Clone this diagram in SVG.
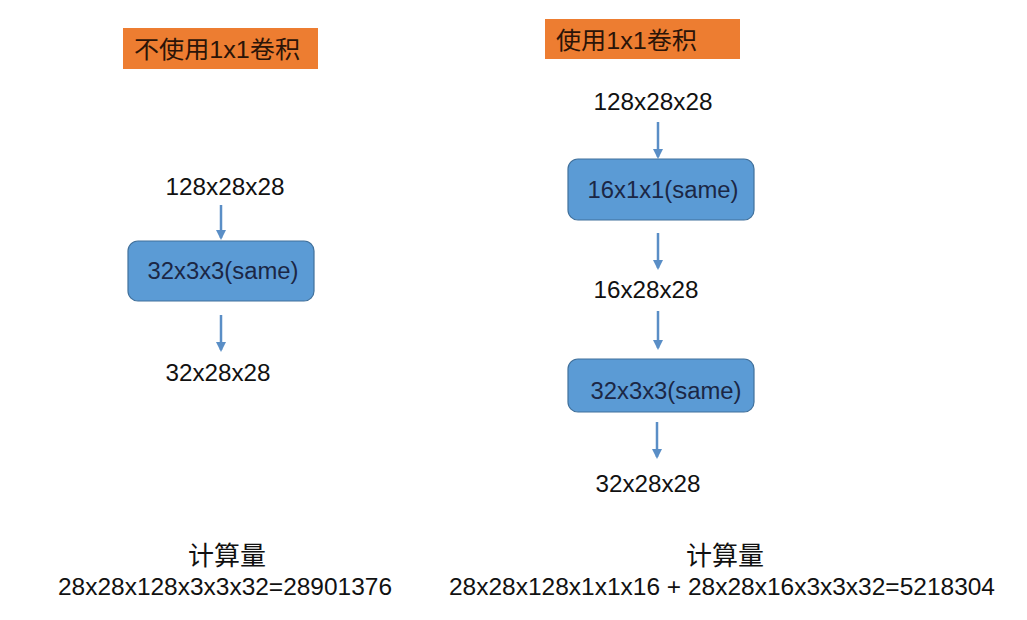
<svg xmlns="http://www.w3.org/2000/svg" width="1027" height="620" viewBox="0 0 1027 620">
<style>
.t{font-family:"Liberation Sans","Noto Sans CJK SC",sans-serif;fill:#111;text-anchor:middle}
.lbl{font-size:23px}
.nt{font-size:23px;fill:#1b2745;text-anchor:middle;font-family:"Liberation Sans","Noto Sans CJK SC",sans-serif}
.hd{font-family:"Liberation Sans","Noto Sans CJK SC",sans-serif;font-size:24px;fill:#2b1408}
.box{fill:#5B9BD5;stroke:#41719C;stroke-width:1.2}
.tag{fill:#ED7D31}
.c{stroke:#5A8EC6;stroke-width:2.5;fill:none;marker-end:url(#ah)}
</style>
<defs>
<marker id="ah" viewBox="0 0 10 10" refX="8" refY="5" markerWidth="4" markerHeight="4" orient="auto" markerUnits="strokeWidth">
<path d="M0,0 L10,5 L0,10 z" fill="#5A8EC6"/>
</marker>
</defs>
<rect width="1027" height="620" fill="#fff"/>
<g id="tag-left"><rect class="tag" x="123" y="28" width="195" height="41"/><text class="hd" x="134" y="58" textLength="166" lengthAdjust="spacingAndGlyphs">不使用1x1卷积</text></g>
<g id="tag-right"><rect class="tag" x="545" y="19" width="195" height="40"/><text class="hd" x="556" y="49" textLength="141" lengthAdjust="spacingAndGlyphs">使用1x1卷积</text></g>
<g id="connectors">
<line class="c" x1="221" y1="205" x2="221" y2="238"/>
<line class="c" x1="221" y1="315" x2="221" y2="350"/>
<line class="c" x1="658" y1="122" x2="658" y2="157"/>
<line class="c" x1="658" y1="233" x2="658" y2="268"/>
<line class="c" x1="658" y1="311" x2="658" y2="348"/>
<line class="c" x1="657" y1="422" x2="657" y2="457"/>
</g>
<g id="l-in"><text class="t lbl" x="225" y="195" textLength="119" lengthAdjust="spacingAndGlyphs">128x28x28</text></g>
<g id="l-conv"><rect class="box" x="128" y="241" width="186" height="60" rx="10"/><text class="nt" x="223" y="279" textLength="151" lengthAdjust="spacingAndGlyphs">32x3x3(same)</text></g>
<g id="l-out"><text class="t lbl" x="218" y="381" textLength="105" lengthAdjust="spacingAndGlyphs">32x28x28</text></g>
<g id="r-in"><text class="t lbl" x="653" y="110" textLength="119" lengthAdjust="spacingAndGlyphs">128x28x28</text></g>
<g id="r-conv1"><rect class="box" x="568" y="159" width="186" height="61" rx="10"/><text class="nt" x="663" y="198" textLength="151" lengthAdjust="spacingAndGlyphs">16x1x1(same)</text></g>
<g id="r-mid"><text class="t lbl" x="646" y="298" textLength="105" lengthAdjust="spacingAndGlyphs">16x28x28</text></g>
<g id="r-conv2"><rect class="box" x="568" y="359" width="186" height="53" rx="10"/><text class="nt" x="666" y="399" textLength="151" lengthAdjust="spacingAndGlyphs">32x3x3(same)</text></g>
<g id="r-out"><text class="t lbl" x="648" y="492" textLength="105" lengthAdjust="spacingAndGlyphs">32x28x28</text></g>
<g id="calc-left"><text class="t" x="227" y="565" style="font-size:26px">计算量</text><text class="t" x="225" y="595" style="font-size:23px" textLength="334" lengthAdjust="spacingAndGlyphs">28x28x128x3x3x32=28901376</text></g>
<g id="calc-right"><text class="t" x="725" y="565" style="font-size:26px">计算量</text><text class="t" x="722" y="595" style="font-size:23px" textLength="546" lengthAdjust="spacingAndGlyphs">28x28x128x1x1x16 + 28x28x16x3x3x32=5218304</text></g>
</svg>
